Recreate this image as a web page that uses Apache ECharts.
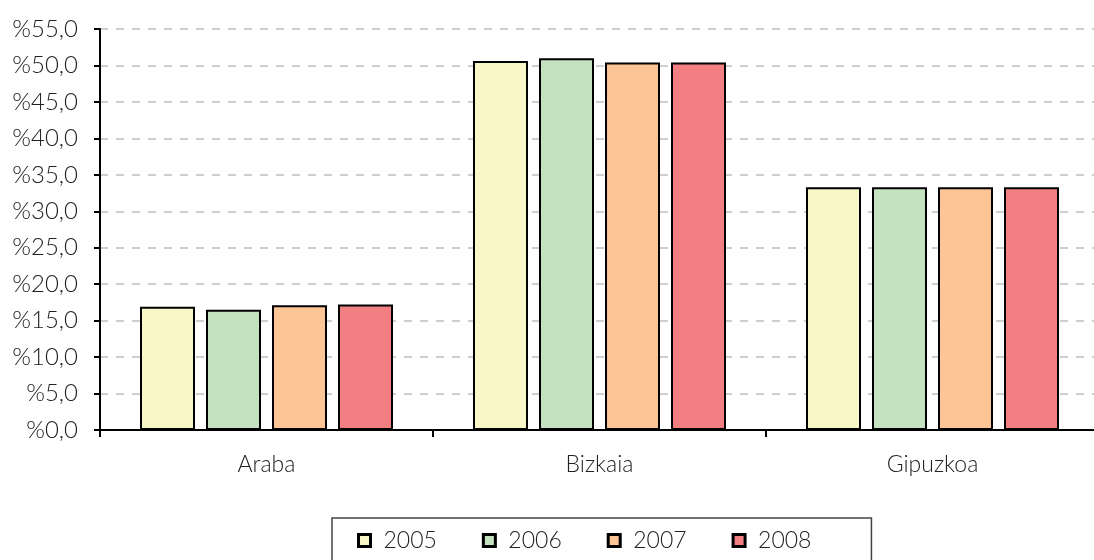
<!DOCTYPE html>
<html><head><meta charset="utf-8">
<script src="https://cdn.jsdelivr.net/npm/echarts@6/dist/echarts.min.js"></script>
<style>html,body{margin:0;padding:0;background:#fff;overflow:hidden}#c{width:1099px;height:560px}</style>
</head><body><div id="c"></div>
<script>
const categories = ['Araba', 'Bizkaia', 'Gipuzkoa'];
const seriesNames = ['2005', '2006', '2007', '2008'];
const v2005 = [16.9, 50.6, 33.3];
const v2006 = [16.5, 51.0, 33.3];
const v2007 = [17.1, 50.4, 33.3];
const v2008 = [17.2, 50.4, 33.3];
const yTicks = [0, 5, 10, 15, 20, 25, 30, 35, 40, 45, 50, 55];

const colors = ['#F9F7C8', '#C4E2C0', '#FDC595', '#F28083'];
const values = [v2005, v2006, v2007, v2008];
const font = 'Lato, "Open Sans", sans-serif';

const chart = echarts.init(document.getElementById('c'));
chart.setOption({
  animation: false,
  grid: { left: 100, top: 29, right: 0, height: 401, containLabel: false },
  legend: {
    data: seriesNames,
    left: 332, top: 518,
    padding: [11, 60, 20, 25],
    itemWidth: 12, itemHeight: 12, itemGap: 45,
    borderColor: '#444', borderWidth: 1.5,
    icon: 'rect',
    itemStyle: { borderColor: '#000', borderWidth: 3 },
    textStyle: { fontFamily: font, fontWeight: 300, fontSize: 23, color: '#222', padding: [0, 0, 0, 8] }
  },
  xAxis: {
    type: 'category', data: categories,
    axisLine: { lineStyle: { color: '#000', width: 2 } },
    axisTick: { show: true, length: 7, lineStyle: { color: '#000', width: 2 } },
    axisLabel: { fontFamily: font, fontWeight: 300, fontSize: 23, color: '#222', margin: 23 }
  },
  yAxis: {
    type: 'value', min: yTicks[0], max: yTicks[yTicks.length - 1], interval: 5,
    axisLine: { show: true, lineStyle: { color: '#000', width: 2 } },
    axisTick: { show: true, length: 6, lineStyle: { color: '#000', width: 2 } },
    axisLabel: { fontFamily: font, fontWeight: 300, fontSize: 24, color: '#222', margin: 22,
      formatter: v => '%' + v.toFixed(1).replace('.', ',') },
    splitLine: { show: true, lineStyle: { color: '#c0c0c0', width: 1.5, type: [8, 8] } }
  },
  series: seriesNames.map((n, i) => ({
    name: n, type: 'bar', data: values[i],
    barWidth: 55, barGap: '20%',
    itemStyle: { color: colors[i], borderColor: '#000', borderWidth: 2 }
  }))
});
</script></body></html>
